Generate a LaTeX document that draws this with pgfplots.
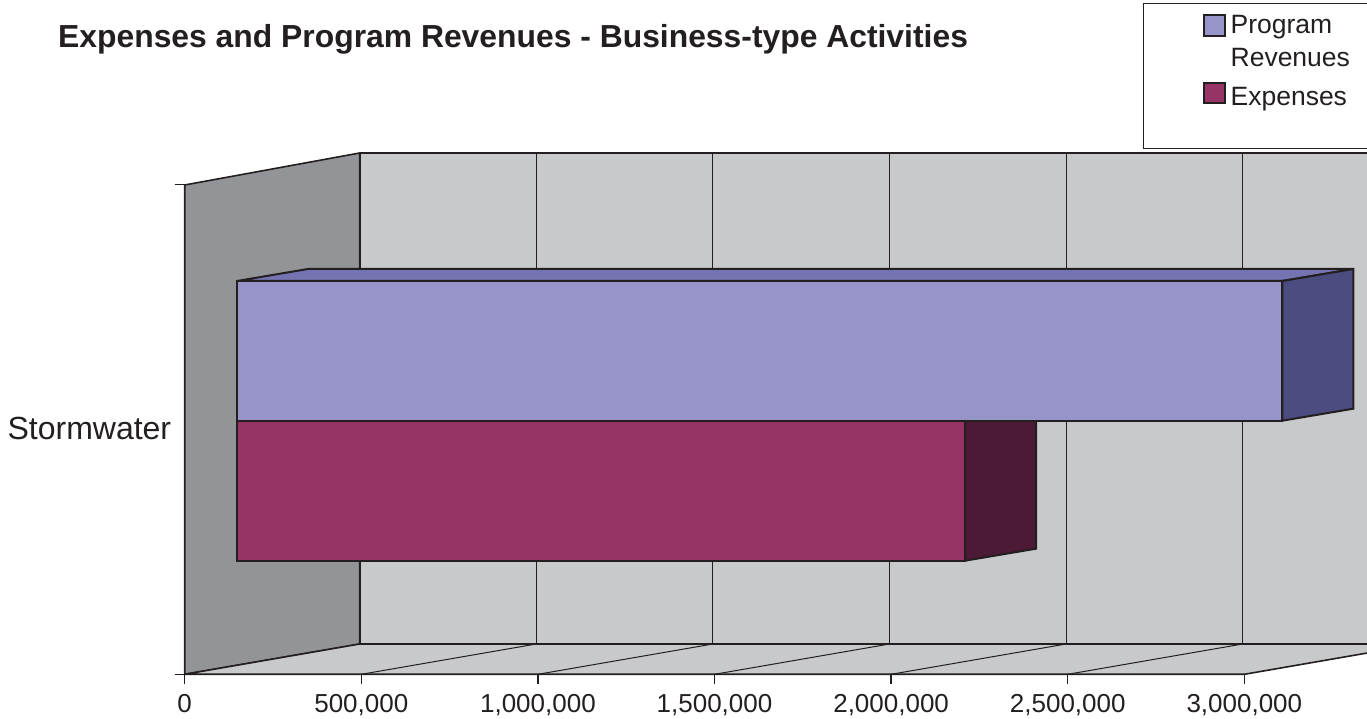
\documentclass[border=0pt]{standalone}
\usepackage{pgfplots}
\pgfplotsset{compat=1.18}
\usepackage{fontspec}
\setmainfont{Liberation Sans}
\definecolor{ink}{HTML}{231F20}
\definecolor{wallback}{HTML}{C8C9CB}
\definecolor{wallside}{HTML}{939497}
\definecolor{revfront}{HTML}{9694C8}
\definecolor{revtop}{HTML}{7673B3}
\definecolor{revside}{HTML}{4C4C80}
\definecolor{expfront}{HTML}{983365}
\definecolor{expside}{HTML}{4D1A35}
\begin{document}
\begin{tikzpicture}[x=1pt,y=1pt]
\useasboundingbox (0,0) rectangle (1367,719);
\clip (0,0) rectangle (1367,719);
\begin{axis}[
  at={(184.7pt,44.7pt)}, anchor=south west,
  scale only axis, width=1182.3pt, height=521.3pt,
  xmin=0, xmax=3347311, ymin=44.7, ymax=566,
  clip=false,
  axis line style={draw=none},
  tick style={draw=ink, line width=1pt},
  tick align=outside, major tick length=10pt,
  xtick pos=bottom, ytick pos=left,
  xtick={0,500000,1000000,1500000,2000000,2500000,3000000},
  scaled x ticks=false,
  /pgf/number format/.cd, fixed, 1000 sep={,}, assume math mode=true,
  /pgfplots/.cd,
  ytick={44.7,534}, yticklabels={},
  extra y ticks={299}, extra y tick labels={Stormwater},
  extra y tick style={major tick length=0pt, tick style={draw=none},
    yticklabel style={font=\fontsize{32}{36}\selectfont, text=ink, xshift=-10pt, yshift=-8pt}},
  xticklabel style={font=\fontsize{26}{30}\selectfont, text=ink, yshift=-7pt},
  legend style={at={(0.8608,1.278)}, anchor=north west, draw=none, fill=none,
    font=\fontsize{26.5}{32}\selectfont, text=ink,
    inner sep=0pt, row sep=0pt, nodes={inner sep=0pt},
    cells={anchor=base west}},
  legend cell align=left,
]
% side wall, back wall and floor
\addplot[forget plot, fill=wallside, draw=ink, line width=1.6pt]
  coordinates {(0,44.7) (0,534) (495470,566) (495470,75)} -- cycle;
\addplot[forget plot, fill=wallback, draw=ink, line width=1.6pt]
  coordinates {(495470,75) (495470,566) (3600000,566) (3600000,75)} -- cycle;
\addplot[forget plot, fill=wallback, draw=ink, line width=1.6pt]
  coordinates {(0,44.7) (3000000,44.7) (3495470,75) (495470,75)} -- cycle;
% gridlines on the back wall
\addplot[forget plot, ink, line width=1pt] coordinates {(995470,75) (995470,566)};
\addplot[forget plot, ink, line width=1pt] coordinates {(1495470,75) (1495470,566)};
\addplot[forget plot, ink, line width=1pt] coordinates {(1995470,75) (1995470,566)};
\addplot[forget plot, ink, line width=1pt] coordinates {(2495470,75) (2495470,566)};
\addplot[forget plot, ink, line width=1pt] coordinates {(2995470,75) (2995470,566)};
% gridlines on the floor
\addplot[forget plot, ink, line width=1pt] coordinates {(500000,44.7) (995470,75)};
\addplot[forget plot, ink, line width=1pt] coordinates {(1000000,44.7) (1495470,75)};
\addplot[forget plot, ink, line width=1pt] coordinates {(1500000,44.7) (1995470,75)};
\addplot[forget plot, ink, line width=1pt] coordinates {(2000000,44.7) (2495470,75)};
\addplot[forget plot, ink, line width=1pt] coordinates {(2500000,44.7) (2995470,75)};
% short marks under the floor at each labelled value
\addplot[forget plot, ink, line width=1.5pt] coordinates {(0,44.7) (0,34.5)};
\addplot[forget plot, ink, line width=1.5pt] coordinates {(500000,44.7) (500000,34.5)};
\addplot[forget plot, ink, line width=1.5pt] coordinates {(1000000,44.7) (1000000,34.5)};
\addplot[forget plot, ink, line width=1.5pt] coordinates {(1500000,44.7) (1500000,34.5)};
\addplot[forget plot, ink, line width=1.5pt] coordinates {(2000000,44.7) (2000000,34.5)};
\addplot[forget plot, ink, line width=1.5pt] coordinates {(2500000,44.7) (2500000,34.5)};
\addplot[forget plot, ink, line width=1.5pt] coordinates {(3000000,44.7) (3000000,34.5)};
% Expenses: bar from 148075 running 2061155 along the axis
\addplot[forget plot, fill=expside, draw=ink, line width=2pt]
  coordinates {(2209230,298.3) (2410249,298.3) (2410249,170.3) (2209230,158.3)} -- cycle;
\addplot[forget plot, fill=expfront, draw=ink, line width=2pt]
  coordinates {(148075,158.3) (148075,298.3) (2209230,298.3) (2209230,158.3)} -- cycle;
% Program Revenues: bar from 148075 running 2959513 along the axis
\addplot[forget plot, fill=revtop, draw=ink, line width=2pt]
  coordinates {(148075,438) (349094,450) (3308607,450) (3107588,438)} -- cycle;
\addplot[forget plot, fill=revside, draw=ink, line width=2pt]
  coordinates {(3107588,438) (3308607,450) (3308607,310.3) (3107588,298.3)} -- cycle;
\addplot[forget plot, fill=revfront, draw=ink, line width=2pt]
  coordinates {(148075,298.3) (148075,438) (3107588,438) (3107588,298.3)} -- cycle;
% legend rows
\addlegendimage{legend image code/.code={\draw[fill=revfront, draw=ink, line width=2pt] (0pt,-14pt) rectangle (21pt,6.5pt);}}
\addlegendentry{\hspace{5pt}\rule[-7pt]{0pt}{32pt}Program}
\addlegendimage{legend image code/.code={}}
\addlegendentry{\hspace{5pt}\rule[-7pt]{0pt}{37pt}Revenues}
\addlegendimage{legend image code/.code={\draw[fill=expfront, draw=ink, line width=2pt] (0pt,-16pt) rectangle (21pt,4.5pt);}}
\addlegendentry{\hspace{5pt}\rule[-7pt]{0pt}{44pt}Expenses}
\end{axis}
% legend frame, running off the right edge
\draw[ink, line width=1pt] (1380,715.5) -- (1143.7,715.5) -- (1143.7,570) -- (1380,570);
\node[anchor=base west, inner sep=0pt, text=ink, font=\fontsize{31.85}{36}\bfseries\selectfont] at (58,671) {Expenses and Program Revenues - Business-type Activities};
\end{tikzpicture}
\end{document}
